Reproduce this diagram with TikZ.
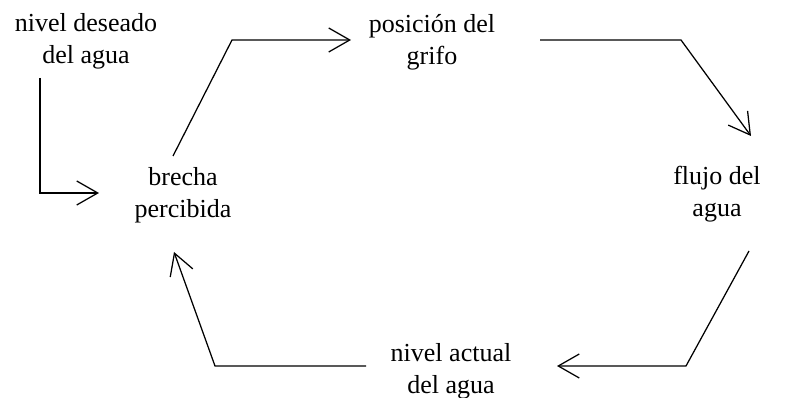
\documentclass[tikz,border=0pt]{standalone}
\usepackage{fontspec}
\setmainfont{Liberation Serif}
\usetikzlibrary{arrows.meta}
\begin{document}
\begin{tikzpicture}[x=1pt,y=-1pt,
  lbl/.style={align=center,inner sep=0pt,font=\fontsize{26}{32}\selectfont},
  conn/.style={line width=1.25pt,-{Straight Barb[length=21pt,width=24pt]}}]
\useasboundingbox (0,0) rectangle (785,398);
\node[lbl] (ndes) at (86,41) {nivel deseado\\del agua};
\node[lbl] (pos) at (432,42) {posición del\\grifo};
\node[lbl] (bre) at (183,195) {brecha\\percibida};
\node[lbl] (flu) at (717,194) {flujo del\\agua};
\node[lbl] (act) at (451,371) {nivel actual\\del agua};
% connector end points
\coordinate (a0) at (40,78);
\coordinate (a1) at (99,193);
\coordinate (b0) at (173,156);
\coordinate (b1) at (351,40);
\coordinate (c0) at (540,40);
\coordinate (c1) at (751,136);
\coordinate (d0) at (749,251);
\coordinate (d1) at (557,366);
\coordinate (e0) at (366,366);
\coordinate (e1) at (174,252);
\draw[conn] (a0) |- (a1);
\draw[conn] (b0) -- (232,40) -- (b1);
\draw[conn] (c0) -- (681,40) -- (c1);
\draw[conn] (d0) -- (686,366) -- (d1);
\draw[conn] (e0) -- (215,366) -- (e1);
\end{tikzpicture}
\end{document}
